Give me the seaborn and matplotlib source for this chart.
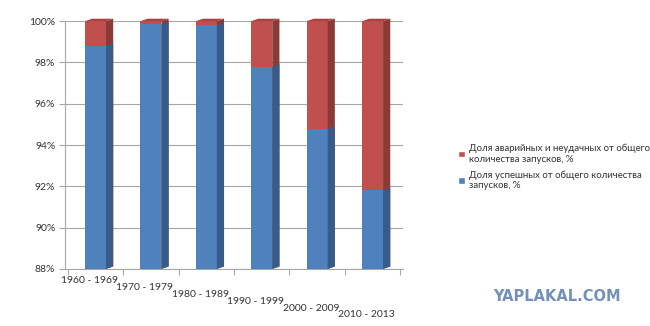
import numpy as np
import pandas as pd
import seaborn as sns
import matplotlib
matplotlib.use("Agg")
import matplotlib.pyplot as plt
import matplotlib.transforms as mtransforms
from matplotlib.patches import Polygon, Patch
from matplotlib.ticker import FuncFormatter, FixedLocator

# Launch outcomes by decade, percent of all launches
decades = ["1960 - 1969", "1970 - 1979", "1980 - 1989", "1990 - 1999", "2000 - 2009", "2010 - 2013"]
success = [98.8, 99.85, 99.8, 97.8, 94.8, 91.8]
failure = [1.2, 0.15, 0.2, 2.2, 5.2, 8.2]
y_ticks = [88, 90, 92, 94, 96, 98, 100]
label_fail = "Доля аварийных и неудачных от общего\nколичества запусков, %"
label_success = "Доля успешных от общего количества\nзапусков, %"

df = pd.DataFrame({"decade": decades, "success": success, "failure": failure})
df["total"] = df["success"] + df["failure"]

BLUE, BLUE_SIDE = "#4F81BD", "#375C8A"
RED, RED_SIDE, RED_TOP = "#C0504D", "#8C3A38", "#A84341"
GRID = "#A6A6A6"
TEXT = "#333333"

sns.set_theme(style="white")
plt.rcParams["font.family"] = ["Lato", "DejaVu Sans"]

fig = plt.figure(figsize=(6.5, 3.26), dpi=100)
ax = fig.add_axes([0.10, 0.175, 0.52, 0.76])

ymin, ymax = y_ticks[0], y_ticks[-1]
bar_w = 0.38

# full stack (red) underneath, successful share (blue) drawn over it
sns.barplot(data=df, x="decade", y="total", color=RED, saturation=1,
            width=bar_w, ax=ax, zorder=2, linewidth=0)
n = len(df)
sns.barplot(data=df, x="decade", y="success", color=BLUE, saturation=1,
            width=bar_w, ax=ax, zorder=4, linewidth=0)

# depth faces for a box-like look
dx, dy = 0.13, 0.12
for i, p in enumerate(ax.patches):
    is_red = i < n
    x0, w = p.get_x(), p.get_width()
    top = p.get_height()
    bot = ymin
    x1 = x0 + w
    side = Polygon([(x1, bot), (x1 + dx, bot + dy), (x1 + dx, top + dy), (x1, top)],
                   closed=True, facecolor=RED_SIDE if is_red else BLUE_SIDE,
                   edgecolor="none", zorder=3 if is_red else 5, clip_on=False)
    ax.add_patch(side)
    if is_red:
        cap = Polygon([(x0, top), (x0 + dx, top + dy), (x1 + dx, top + dy), (x1, top)],
                      closed=True, facecolor=RED_TOP, edgecolor="none",
                      zorder=3, clip_on=False)
        ax.add_patch(cap)

ax.set_ylim(ymin, ymax)
ax.set_xlim(-0.55, n - 0.45)
ax.yaxis.set_major_locator(FixedLocator(y_ticks))
ax.yaxis.set_major_formatter(FuncFormatter(lambda v, _: f"{v:.0f}%"))
ax.grid(axis="y", color=GRID, linewidth=0.8, zorder=0)
ax.set_axisbelow(True)

for s in ["top", "right"]:
    ax.spines[s].set_visible(False)
for s in ["left", "bottom"]:
    ax.spines[s].set_color(GRID)
    ax.spines[s].set_linewidth(0.8)

ax.set_xlabel("")
ax.set_ylabel("")
ax.tick_params(axis="y", which="major", left=True, length=4, width=0.8,
               color=GRID, labelsize=7.5, labelcolor=TEXT, pad=3)
ax.tick_params(axis="x", which="major", bottom=False, labelbottom=False)
ax.set_xticks(np.arange(-0.5, n, 1.0), minor=True)
ax.tick_params(axis="x", which="minor", bottom=True, length=4, width=0.8, color=GRID)

# category labels stepped downward along the floor edge
base = mtransforms.blended_transform_factory(ax.transData, ax.transAxes)
for i, name in enumerate(decades):
    off = mtransforms.ScaledTranslation(-6 / 100, -(12 + 6.8 * i) / 100, fig.dpi_scale_trans)
    ax.text(i, 0, name, transform=base + off, ha="center", va="center",
            fontsize=7.5, color=TEXT)

handles = [Patch(facecolor=RED, label=label_fail), Patch(facecolor=BLUE, label=label_success)]
fig.legend(handles=handles, loc="upper left", bbox_to_anchor=(0.692, 0.585),
           frameon=False, fontsize=6.9, handlelength=0.7, handleheight=0.7,
           handletextpad=0.4, labelspacing=0.7, labelcolor=TEXT)

fig.text(0.857, 0.092, "YAPLAKAL.COM", color="#7390B8", fontsize=10.5,
         fontweight="bold", ha="center", va="center", family="DejaVu Sans")

fig.savefig("out.png", dpi=100, facecolor="white")
